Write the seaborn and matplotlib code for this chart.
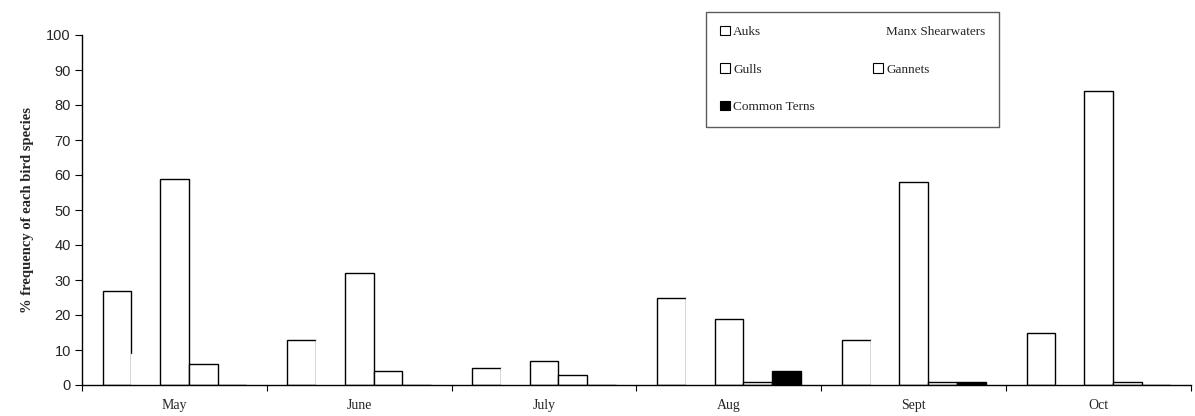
import matplotlib
matplotlib.use("Agg")
import matplotlib.pyplot as plt
from matplotlib.patches import Patch
from matplotlib.ticker import FixedLocator
import seaborn as sns
import pandas as pd

months = ["May", "June", "July", "Aug", "Sept", "Oct"]
species = ["Auks", "Manx Shearwaters", "Gulls", "Gannets", "Common Terns"]
auks = [27, 13, 5, 25, 13, 15]
manx = [9, 13, 5, 25, 13, 0]
gulls = [59, 32, 7, 19, 58, 84]
gannets = [6, 4, 3, 1, 1, 1]
terns = [0, 0, 0, 4, 1, 0]
yticks = list(range(0, 101, 10))

series = {"Auks": auks, "Manx Shearwaters": manx, "Gulls": gulls,
          "Gannets": gannets, "Common Terns": terns}
rows = []
for sp in species:
    for m, v in zip(months, series[sp]):
        rows.append({"month": m, "species": sp, "value": v})
df = pd.DataFrame(rows)

sns.set_style("white")
plt.rcParams["font.family"] = ["Liberation Serif", "DejaVu Serif"]

fig = plt.figure(figsize=(11.95, 4.16), dpi=100)
ax = fig.add_axes([82 / 1195, 31 / 416, 1109 / 1195, 350 / 416])

fills = {"Auks": "white", "Manx Shearwaters": "white", "Gulls": "white",
         "Gannets": "white", "Common Terns": "black"}
edges = {"Auks": "black", "Manx Shearwaters": "white", "Gulls": "black",
         "Gannets": "black", "Common Terns": "black"}

sns.barplot(data=df, x="month", y="value", hue="species", hue_order=species,
            order=months, palette=fills, width=0.777, gap=0, ax=ax,
            edgecolor="black", linewidth=1.0, legend=False, saturation=1)

for sp, cont in zip(species, ax.containers):
    for p in cont.patches:
        p.set_edgecolor(edges[sp])
        p.set_linewidth(1.0)

ax.set_xlim(-0.5, 5.5)
ax.set_ylim(0, 100)
ax.set_yticks(yticks)
ax.set_yticklabels([str(t) for t in yticks], family="Liberation Sans", fontsize=10.5)
ax.set_xticks(range(len(months)))
ax.set_xticklabels(months, fontsize=10)
ax.xaxis.set_minor_locator(FixedLocator([i - 0.5 for i in range(len(months) + 1)]))
ax.tick_params(axis="x", which="major", length=0, pad=10)
ax.tick_params(axis="x", which="minor", length=4, width=0.8, color="black", direction="out", bottom=True)
ax.tick_params(axis="y", length=5, width=0.8, color="black", direction="out", left=True, pad=3)
ax.set_xlabel("")
ax.set_ylabel("% frequency of each bird species", fontsize=10.5, fontweight="bold", labelpad=9)

for s in ["top", "right"]:
    ax.spines[s].set_visible(False)
for s in ["left", "bottom"]:
    ax.spines[s].set_color("black")
    ax.spines[s].set_linewidth(1.0)

handles = {sp: Patch(facecolor=fills[sp], edgecolor=edges[sp], linewidth=0.8) for sp in species}
order = ["Auks", "Gulls", "Common Terns", "Manx Shearwaters", "Gannets"]
leg = ax.legend([handles[s] for s in order], order, ncol=2, loc="upper left",
                bbox_to_anchor=(0.5627, 1.066), frameon=True, fancybox=False,
                fontsize=9.5, handlelength=0.75, handleheight=0.75, handletextpad=0.25,
                labelspacing=1.9, columnspacing=4.4, borderpad=1.05, borderaxespad=0)
leg.get_frame().set_edgecolor("#333333")
leg.get_frame().set_linewidth(1.0)

fig.savefig("out.png", dpi=100)
